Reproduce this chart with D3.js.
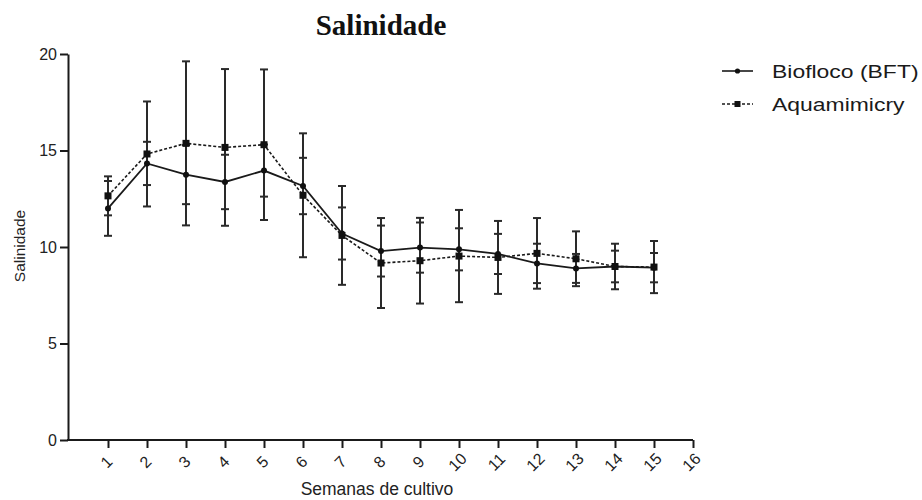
<!DOCTYPE html>
<html>
<head>
<meta charset="utf-8">
<script src="https://cdn.jsdelivr.net/npm/d3@7"></script>
<style>
  html, body { margin: 0; padding: 0; background: #fff; }
  svg { display: block; }
</style>
</head>
<body>
<svg id="chart" width="922" height="500"></svg>
<script>
// Weekly salinity, mean ± SD, for the two culture systems
const weeks = [1, 2, 3, 4, 5, 6, 7, 8, 9, 10, 11, 12, 13, 14, 15];
const bftMean = [12.0, 14.33, 13.75, 13.37, 13.96, 13.16, 10.7, 9.79, 9.97, 9.88, 9.64, 9.15, 8.89, 8.99, 8.93];
const bftSd   = [1.42, 1.12, 1.53, 1.41, 1.35, 1.46, 1.35, 1.32, 1.30, 1.09, 1.04, 1.02, 0.75, 0.82, 0.76];
const aquaMean = [12.65, 14.82, 15.37, 15.16, 15.30, 12.68, 10.6, 9.17, 9.29, 9.53, 9.46, 9.67, 9.39, 8.99, 8.96];
const aquaSd   = [1.01, 2.72, 4.25, 4.06, 3.90, 3.21, 2.56, 2.33, 2.22, 2.39, 1.89, 1.83, 1.42, 1.18, 1.35];
const xTicks = [1, 2, 3, 4, 5, 6, 7, 8, 9, 10, 11, 12, 13, 14, 15, 16];
const yTicks = [0, 5, 10, 15, 20];
const seriesNames = ["Biofloco (BFT)", "Aquamimicry"];

const svg = d3.select("#chart");
const ink = "#1a1a1a";

const x = d3.scaleLinear().domain([0, 16]).range([69, 693]);
const y = d3.scaleLinear().domain([0, 20]).range([440, 54]);

// Title
svg.append("text")
  .attr("x", 381).attr("y", 35)
  .attr("text-anchor", "middle")
  .attr("font-family", "'Liberation Serif', 'Times New Roman', serif")
  .attr("font-weight", "bold")
  .attr("font-size", 29)
  .attr("fill", "#111")
  .text("Salinidade");

// Y axis
const yAxis = svg.append("g")
  .attr("transform", `translate(${x(0) - 1},0)`)
  .call(d3.axisLeft(y).tickValues(yTicks).tickSize(8).tickPadding(3).tickSizeOuter(0));
yAxis.select(".domain").attr("stroke", ink).attr("stroke-width", 2);
yAxis.selectAll(".tick line").attr("stroke", ink).attr("stroke-width", 2);
yAxis.selectAll(".tick text")
  .attr("font-family", "'Liberation Sans', Arial, sans-serif")
  .attr("font-size", 16).attr("fill", "#222");

// X axis
const xAxis = svg.append("g")
  .attr("transform", `translate(0,${y(0)})`)
  .call(d3.axisBottom(x).tickValues(xTicks).tickSize(8).tickSizeOuter(0).tickFormat(d3.format("d")));
xAxis.select(".domain").attr("stroke", ink).attr("stroke-width", 2)
  .attr("d", `M${x(0) - 2},0H${x(16)}`);
xAxis.selectAll(".tick line").attr("stroke", ink).attr("stroke-width", 2);
xAxis.selectAll(".tick text")
  .attr("font-family", "'Liberation Sans', Arial, sans-serif")
  .attr("font-size", 16).attr("fill", "#222")
  .attr("text-anchor", "middle")
  .attr("dy", null)
  .attr("dominant-baseline", "central")
  .attr("y", null)
  .attr("transform", "translate(-2,22) rotate(-45)");

// Axis titles
svg.append("text")
  .attr("x", 377).attr("y", 495)
  .attr("text-anchor", "middle")
  .attr("font-family", "'Liberation Sans', Arial, sans-serif")
  .attr("font-size", 17.5).attr("fill", "#222")
  .text("Semanas de cultivo");

svg.append("text")
  .attr("transform", `translate(19,246) rotate(-90)`)
  .attr("text-anchor", "middle")
  .attr("dominant-baseline", "central")
  .attr("font-family", "'Liberation Sans', Arial, sans-serif")
  .attr("font-size", 15.5).attr("fill", "#222")
  .text("Salinidade");

const bft = weeks.map((w, i) => ({ w, m: bftMean[i], sd: bftSd[i] }));
const aqua = weeks.map((w, i) => ({ w, m: aquaMean[i], sd: aquaSd[i] }));

// Error bars (mean ± SD) with caps
function errorBars(data, cls) {
  const g = svg.append("g").attr("class", cls)
    .attr("stroke", "#2a2a2a").attr("stroke-width", 2);
  const cap = 4;
  const bars = g.selectAll("g").data(data).join("g");
  bars.append("line")
    .attr("x1", d => x(d.w)).attr("x2", d => x(d.w))
    .attr("y1", d => y(d.m - d.sd)).attr("y2", d => y(d.m + d.sd));
  bars.append("line")
    .attr("x1", d => x(d.w) - cap).attr("x2", d => x(d.w) + cap)
    .attr("y1", d => y(d.m + d.sd)).attr("y2", d => y(d.m + d.sd));
  bars.append("line")
    .attr("x1", d => x(d.w) - cap).attr("x2", d => x(d.w) + cap)
    .attr("y1", d => y(d.m - d.sd)).attr("y2", d => y(d.m - d.sd));
}
errorBars(aqua, "err-aqua");
errorBars(bft, "err-bft");

const line = d3.line().x(d => x(d.w)).y(d => y(d.m));

svg.append("path").datum(aqua)
  .attr("fill", "none").attr("stroke", ink).attr("stroke-width", 1.6)
  .attr("stroke-dasharray", "3,2")
  .attr("d", line);

svg.append("path").datum(bft)
  .attr("fill", "none").attr("stroke", ink).attr("stroke-width", 1.8)
  .attr("d", line);

// Markers
svg.append("g").selectAll("rect").data(aqua).join("rect")
  .attr("x", d => x(d.w) - 3.5).attr("y", d => y(d.m) - 3.5)
  .attr("width", 7).attr("height", 7).attr("fill", "#111");

svg.append("g").selectAll("circle").data(bft).join("circle")
  .attr("cx", d => x(d.w)).attr("cy", d => y(d.m))
  .attr("r", 3).attr("fill", "#111");

// Legend
const legend = svg.append("g");
const rows = [
  { name: seriesNames[0], yPos: 71, dash: null, marker: "circle" },
  { name: seriesNames[1], yPos: 104, dash: "3,2", marker: "square" }
];
rows.forEach(r => {
  legend.append("line")
    .attr("x1", 722).attr("x2", 753).attr("y1", r.yPos).attr("y2", r.yPos)
    .attr("stroke", ink).attr("stroke-width", 1.6)
    .attr("stroke-dasharray", r.dash);
  if (r.marker === "circle") {
    legend.append("circle").attr("cx", 737.5).attr("cy", r.yPos).attr("r", 2.6).attr("fill", "#111");
  } else {
    legend.append("rect").attr("x", 734.5).attr("y", r.yPos - 3).attr("width", 6).attr("height", 6).attr("fill", "#111");
  }
  legend.append("text")
    .attr("transform", `translate(772,${r.yPos}) scale(1.24,1)`)
    .attr("dominant-baseline", "central")
    .attr("font-family", "'Liberation Sans', Arial, sans-serif")
    .attr("font-size", 18.5).attr("fill", "#1a1a1a")
    .text(r.name);
});
</script>
</body>
</html>
